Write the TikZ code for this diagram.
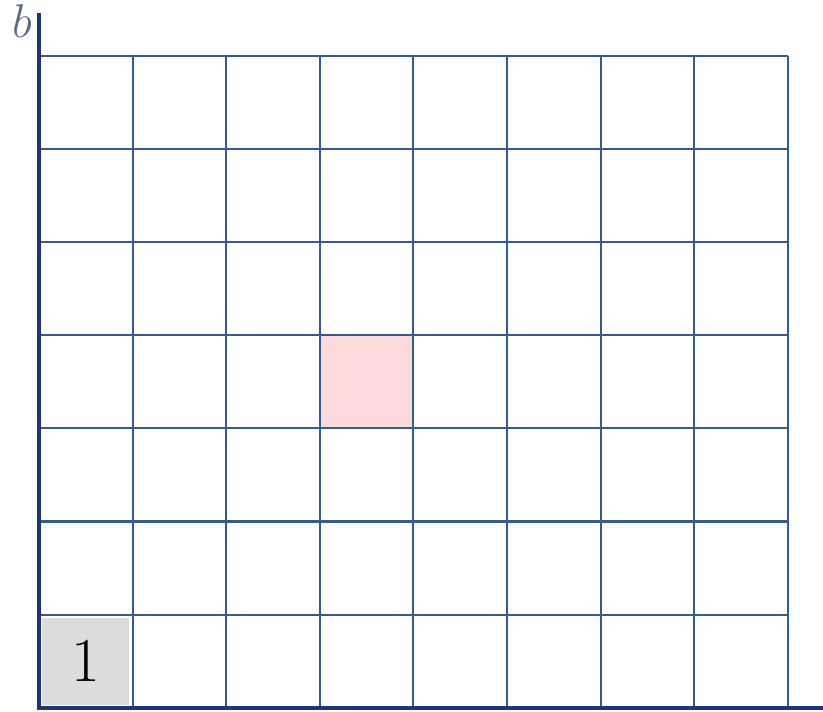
\documentclass[tikz,border=0pt]{standalone}
\usepackage{tikz}
\definecolor{axisblue}{RGB}{28,52,122}
\definecolor{gridblue}{RGB}{52,92,142}
\definecolor{labelgray}{RGB}{95,108,140}
\definecolor{cellgray}{RGB}{220,220,220}
\definecolor{cellpink}{RGB}{253,218,220}
\tikzset{gridline/.style={gridblue, line width=0.65pt}}
\tikzset{axisline/.style={axisblue, line width=1.1pt}}
\tikzset{unitcell/.style={fill=cellgray, minimum width=0.93cm, minimum height=0.925cm,
	inner sep=0pt, font=\fontsize{19}{19}\selectfont}}

\begin{document}
\begin{tikzpicture}[x=1cm,y=0.995cm]
	\useasboundingbox (-0.417,-0.043) rectangle (8.376,7.600);
	\fill[cellpink] (3,3) rectangle (4,4);
	\node[unitcell] (one) at (0.5,0.5) {1};
	\foreach \i in {1,...,8}
		\draw[gridline] (\i,0) -- (\i,7);
	\foreach \j in {1,...,7}
		\draw[gridline] (0,\j) -- (8,\j);
	\coordinate (origin) at (0,0);
	\coordinate (ytop) at (0,7.46);
	\coordinate (xend) at (8.376,0);
	\draw[axisline] (ytop) -- (origin) -- (xend);
	\node[labelgray, font=\fontsize{14}{14}\selectfont, anchor=east, inner sep=0pt]
		(b) at (-0.07,7.37) {$b$};
\end{tikzpicture}
\end{document}
